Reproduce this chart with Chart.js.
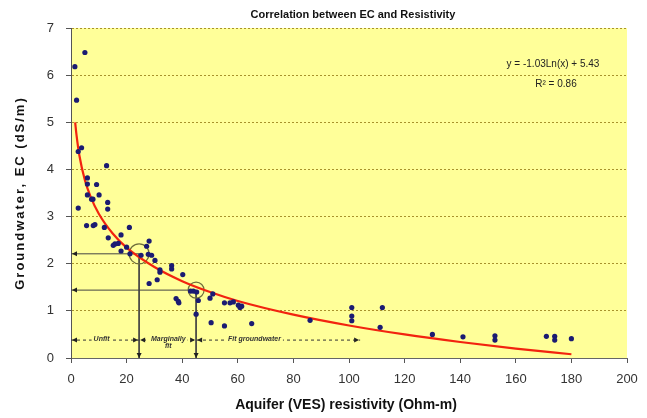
<!DOCTYPE html>
<html>
<head>
<meta charset="utf-8">
<title>Correlation between EC and Resistivity</title>
<script src="https://cdn.jsdelivr.net/npm/chart.js@4.4.1/dist/chart.umd.min.js"></script>
<style>
  html, body { margin: 0; padding: 0; background: #fff; }
  #wrap { width: 647px; height: 418px; }
</style>
</head>
<body>
<div id="wrap"><canvas id="chart" width="647" height="418"></canvas></div>
<script>
// VES points: aquifer resistivity (Ohm-m) and groundwater EC (dS/m)
const resistivity = [1.4, 5, 2, 2.6, 3.8, 12.8, 5.9, 5.9, 9.2, 5.9, 7.4, 7.9, 10.1, 13.2, 13.2, 2.6,
  5.6, 8, 8.6, 12, 21, 13.4, 18, 15.2, 15.8, 17, 18, 20, 21.2, 25.2, 27.2, 28.1, 27.8, 29, 30.2,
  32, 32, 36.2, 36.2, 28.1, 31, 40.2, 37.8, 38.6, 38.8, 43, 44, 45.2, 45.8, 45, 50, 51, 50.4,
  55.2, 57.2, 58.4, 60.2, 60.8, 61.4, 55.2, 65, 86, 101, 101, 101, 112, 111.2, 130, 141,
  152.5, 152.5, 171, 174, 174, 180];
const ec = [6.18, 6.48, 5.47, 4.38, 4.46, 4.08, 3.82, 3.69, 3.68, 3.46, 3.37, 3.37, 3.46, 3.3, 3.16, 3.18,
  2.81, 2.81, 2.83, 2.77, 2.77, 2.55, 2.61, 2.39, 2.42, 2.43, 2.27, 2.35, 2.21, 2.18, 2.37, 2.48, 2.2, 2.18, 2.07,
  1.87, 1.82, 1.96, 1.89, 1.58, 1.66, 1.77, 1.26, 1.2, 1.17, 1.42, 1.42, 1.4, 1.22, 0.93, 1.27, 1.36, 0.75,
  1.17, 1.17, 1.19, 1.12, 1.07, 1.1, 0.68, 0.73, 0.8, 1.07, 0.89, 0.79, 1.07, 0.65, 0.5, 0.45,
  0.47, 0.38, 0.46, 0.46, 0.38, 0.41];

// red trend curve
const trendX = [1.5, 2, 3, 5, 7, 10, 15, 20, 30, 40, 50, 60, 80, 100, 120, 140, 160, 180];
const trendY = [5.0, 4.72, 4.3, 3.77, 3.43, 3.06, 2.64, 2.34, 1.93, 1.63, 1.4, 1.21, 0.92, 0.69, 0.5, 0.34, 0.2, 0.08];

// class limits drawn on the chart
const limitRes = [24.5, 45];
const limitEc = [2.21, 1.44];
const circleRadius = [10, 8];
const classNames = [["Unfit"], ["Marginally", "fit"], ["Fit groundwater"]];
const classEdges = [0, 24.5, 45, 104];
const classLabelX = [11, 35, 66];
const bandEc = 0.38;

const equation = ["y = -1.03Ln(x) + 5.43", "R\u00b2 = 0.86"];
const titleText = "Correlation between EC and Resistivity";
const xTitle = "Aquifer (VES) resistivity (Ohm-m)";
const yTitle = "Groundwater, EC (dS/m)";

const FONT = "'Liberation Sans', Arial, sans-serif";

const points = resistivity.map((x, i) => ({ x: x, y: ec[i] }));
const trend = trendX.map((x, i) => ({ x: x, y: trendY[i] }));

const guideSets = limitRes.map((r, i) => ({
  type: "line",
  data: [{ x: 0, y: limitEc[i] }, { x: r, y: limitEc[i] }, { x: r, y: 0 }],
  borderColor: "#444",
  borderWidth: 1,
  pointRadius: 0,
  fill: false,
  order: 4,
}));

// yellow plot area
const plotBackground = {
  id: "plotBackground",
  beforeDraw(chart) {
    const { ctx, chartArea } = chart;
    ctx.save();
    ctx.fillStyle = "#FFFF99";
    ctx.fillRect(chartArea.left, chartArea.top, chartArea.right - chartArea.left, chartArea.bottom - chartArea.top);
    ctx.restore();
  },
};

function arrowHead(ctx, x, y, dir) {
  const l = 5, w = 2.5;
  ctx.beginPath();
  ctx.moveTo(x, y);
  if (dir === "left") { ctx.lineTo(x + l, y - w); ctx.lineTo(x + l, y + w); }
  if (dir === "right") { ctx.lineTo(x - l, y - w); ctx.lineTo(x - l, y + w); }
  if (dir === "down") { ctx.lineTo(x - w, y - l); ctx.lineTo(x + w, y - l); }
  ctx.closePath();
  ctx.fill();
}

// titles, arrows and small labels
const extras = {
  id: "extras",
  afterDraw(chart) {
    const { ctx, chartArea } = chart;
    const xs = chart.scales.x, ys = chart.scales.y;
    ctx.save();

    // main title
    ctx.fillStyle = "#111";
    ctx.textAlign = "center";
    ctx.textBaseline = "middle";
    ctx.font = "bold 11px " + FONT;
    ctx.fillText(titleText, (chartArea.left + chartArea.right) / 2 + 4, 15);

    // x title
    ctx.font = "bold 14px " + FONT;
    ctx.fillText(xTitle, (chartArea.left + chartArea.right) / 2 - 3, 405);

    // y title, letter spaced
    ctx.save();
    ctx.translate(20, (chartArea.top + chartArea.bottom) / 2);
    ctx.rotate(-Math.PI / 2);
    ctx.font = "bold 13px " + FONT;
    ctx.letterSpacing = "2px";
    ctx.fillText(yTitle, 0, 0);
    ctx.restore();

    // arrow heads on the guide lines
    ctx.fillStyle = "#222";
    limitRes.forEach((r, i) => {
      arrowHead(ctx, xs.getPixelForValue(0) + 1, ys.getPixelForValue(limitEc[i]), "left");
      arrowHead(ctx, xs.getPixelForValue(r), ys.getPixelForValue(0), "down");
    });

    // class bands along the bottom
    const by = ys.getPixelForValue(bandEc);
    for (let i = 0; i < classNames.length; i++) {
      const a = xs.getPixelForValue(classEdges[i]);
      const b = xs.getPixelForValue(classEdges[i + 1]);
      arrowHead(ctx, a + 1, by, "left");
      arrowHead(ctx, b - 1, by, "right");
    }
    ctx.font = "italic bold 7px " + FONT;
    classNames.forEach((lines, i) => {
      const cx = xs.getPixelForValue(classLabelX[i]);
      const widths = lines.map((t) => ctx.measureText(t).width);
      const w = Math.max(...widths) + 4;
      const h = lines.length * 7 + 2;
      ctx.fillStyle = "#FFFF99";
      ctx.fillRect(cx - w / 2, by - 5, w, h);
      ctx.fillStyle = "#333";
      lines.forEach((t, k) => ctx.fillText(t, cx, by - 1 + k * 7));
    });

    // equation of the trend
    ctx.fillStyle = "#222";
    ctx.font = "10px " + FONT;
    ctx.fillText(equation[0], 553, 64);
    ctx.fillText(equation[1], 556, 84);
    ctx.restore();
  },
};

const ctx = document.getElementById("chart").getContext("2d");
new Chart(ctx, {
  type: "scatter",
  data: {
    datasets: [
      {
        label: "EC",
        data: points,
        backgroundColor: "#1B1B72",
        borderColor: "#1B1B72",
        borderWidth: 0,
        pointRadius: 2.6,
        order: 1,
      },
      {
        type: "line",
        label: "trend",
        data: trend,
        borderColor: "#F2230F",
        borderWidth: 2.2,
        pointRadius: 0,
        cubicInterpolationMode: "monotone",
        fill: false,
        order: 2,
      },
      {
        label: "limits",
        data: limitRes.map((r, i) => ({ x: r, y: limitEc[i] })),
        pointRadius: circleRadius,
        backgroundColor: "rgba(0,0,0,0)",
        borderColor: "#6E6E3C",
        borderWidth: 1.2,
        order: 3,
      },
      ...guideSets,
      {
        type: "line",
        label: "band",
        data: [{ x: 0, y: bandEc }, { x: classEdges[classEdges.length - 1], y: bandEc }],
        borderColor: "#333",
        borderWidth: 1,
        borderDash: [3, 3],
        pointRadius: 0,
        fill: false,
        order: 5,
      },
    ],
  },
  options: {
    responsive: false,
    animation: false,
    devicePixelRatio: 1,
    layout: { padding: { top: 28, right: 20, left: 0, bottom: 0 } },
    plugins: {
      legend: { display: false },
      tooltip: { enabled: false },
      title: { display: false },
    },
    scales: {
      x: {
        min: 0,
        max: 200,
        afterFit(scale) { scale.height = 60; },
        ticks: { stepSize: 20, color: "#333", padding: 9, font: { family: FONT, size: 13 } },
        grid: { drawOnChartArea: false, drawTicks: true, tickLength: 5, tickColor: "#555" },
        border: { color: "#666", width: 1 },
      },
      y: {
        min: 0,
        max: 7,
        afterFit(scale) { scale.width = 71; },
        ticks: { stepSize: 1, color: "#333", padding: 12, font: { family: FONT, size: 13 } },
        grid: {
          color: "#A8922C",
          tickBorderDash: [],
          tickLength: 5,
          tickColor: "#555",
        },
        // in v4 the grid line dash lives under border
        border: { color: "#555", width: 1, dash: [2, 2] },
      },
    },
  },
  plugins: [plotBackground, extras],
});
</script>
</body>
</html>
